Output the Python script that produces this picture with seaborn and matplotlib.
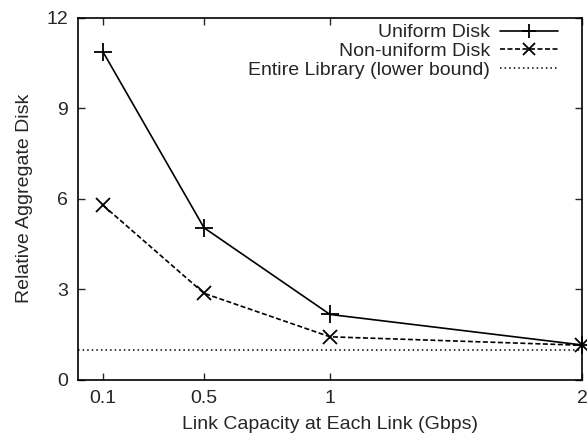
import matplotlib
matplotlib.use("Agg")
import matplotlib.pyplot as plt
import seaborn as sns
import pandas as pd

# Link capacity (Gbps) and relative aggregate disk for each placement scheme
capacity = [0.1, 0.5, 1, 2]
uniform_disk = [10.85, 5.04, 2.17, 1.16]
nonuniform_disk = [5.78, 2.87, 1.43, 1.15]
lower_bound = 1.0
x_ticks = [0.1, 0.5, 1, 2]
y_ticks = [0, 3, 6, 9, 12]

sns.set_style("ticks")
plt.rcParams["font.family"] = ["Liberation Sans", "DejaVu Sans"]
FS = 14

df = pd.DataFrame({
    "capacity": capacity * 2,
    "disk": uniform_disk + nonuniform_disk,
    "scheme": ["Uniform Disk"] * len(capacity) + ["Non-uniform Disk"] * len(capacity),
})

fig = plt.figure(figsize=(5.87, 4.41), dpi=100)
ax = fig.add_axes([78 / 587, 1 - 380 / 441, (582 - 78) / 587, (380 - 17.5) / 441])

sns.lineplot(data=df[df.scheme == "Uniform Disk"], x="capacity", y="disk",
             color="black", lw=1.2, marker="+", markersize=13, markeredgewidth=1.3,
             markeredgecolor="black", ax=ax, label="Uniform Disk", clip_on=False)
sns.lineplot(data=df[df.scheme == "Non-uniform Disk"], x="capacity", y="disk",
             color="black", lw=1.2, marker="x", markersize=10, markeredgewidth=1.3,
             markeredgecolor="black", ax=ax, label="Non-uniform Disk", clip_on=False)
ax.lines[-1].set_dashes([3, 1.5])
ax.axhline(lower_bound, color="black", lw=1.1, ls=(0, (1, 2)),
           label="Entire Library (lower bound)")

ax.set_xlim(0, 2)
ax.set_ylim(0, 12)
ax.set_xticks(x_ticks)
ax.set_xticklabels(["0.1", "0.5", "1", "2"])
ax.set_yticks(y_ticks)
ax.tick_params(direction="in", top=True, right=True, length=5, width=1,
               labelsize=FS, pad=7)
for s in ax.spines.values():
    s.set_linewidth(1.2)
    s.set_color("black")

ax.set_xlabel("Link Capacity at Each Link (Gbps)", fontsize=FS, labelpad=7)
ax.set_ylabel("Relative Aggregate Disk", fontsize=FS, labelpad=10)

leg = ax.legend(loc="upper right", frameon=False, markerfirst=False,
                handlelength=3.0, handletextpad=0.5, labelspacing=0.05,
                borderaxespad=0.3, fontsize=FS, markerscale=0.8,
                bbox_to_anchor=(0.98, 1.02))

fig.savefig("out.png", dpi=100)
